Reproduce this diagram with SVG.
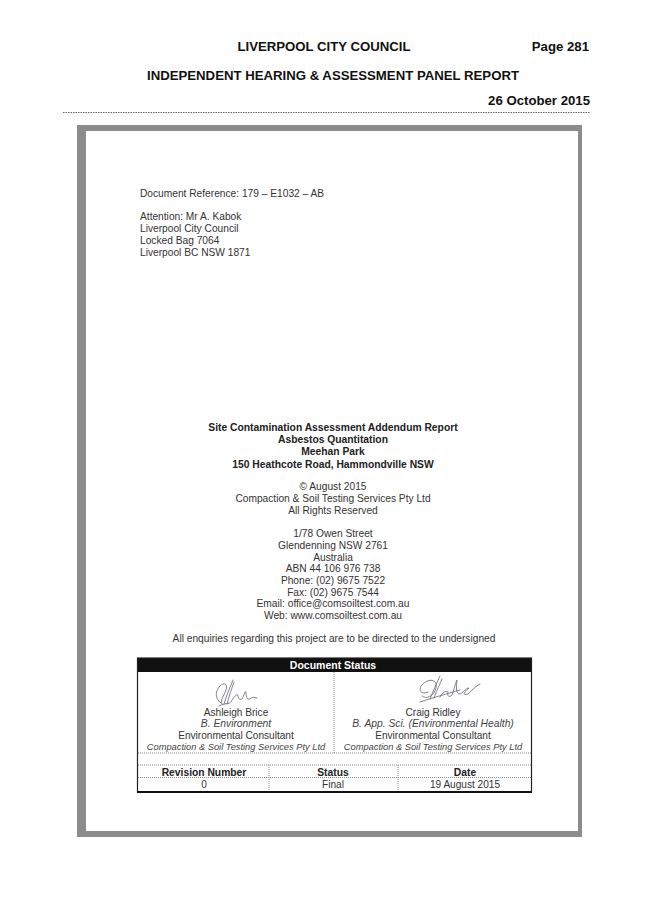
<svg xmlns="http://www.w3.org/2000/svg" width="653" height="923" viewBox="0 0 653 923">
<style>
.hd{font-family:"Liberation Sans",Arial,sans-serif;font-weight:bold;font-size:13.2px;fill:#111}
.t{font-family:"Liberation Sans",Arial,sans-serif;font-size:10.2px;fill:#333}
.tc{font-family:"Liberation Sans",Arial,sans-serif;font-size:10.2px;fill:#333;text-anchor:middle}
.tb{font-family:"Liberation Sans",Arial,sans-serif;font-size:10.3px;font-weight:bold;fill:#222;text-anchor:middle}
.s{font-family:"Liberation Sans",Arial,sans-serif;font-size:10.1px;fill:#333;text-anchor:middle}
.si{font-family:"Liberation Sans",Arial,sans-serif;font-size:10.3px;font-style:italic;fill:#444;text-anchor:middle}
.sm{font-family:"Liberation Sans",Arial,sans-serif;font-size:9.3px;font-style:italic;fill:#444;text-anchor:middle}
.dot{stroke:#888;stroke-width:1;stroke-dasharray:1 1;fill:none}
.sig{fill:none;stroke:#667;stroke-width:0.8;stroke-linecap:round}
</style>
<rect width="653" height="923" fill="#fff"/>
<g id="header">
<text class="hd" x="324" y="51" text-anchor="middle">LIVERPOOL CITY COUNCIL</text>
<text class="hd" x="589" y="51" text-anchor="end">Page 281</text>
<text class="hd" x="333" y="80" text-anchor="middle">INDEPENDENT HEARING &amp; ASSESSMENT PANEL REPORT</text>
<text class="hd" x="590" y="105" text-anchor="end">26 October 2015</text>
<line x1="63" y1="112.5" x2="590" y2="112.5" stroke="#666" stroke-width="1" stroke-dasharray="1.5 1"/>
</g>
<g id="frame" fill="#8c8c8c">
<rect x="77" y="125" width="505" height="6"/>
<rect x="77" y="125" width="9" height="712"/>
<rect x="578" y="125" width="4" height="712"/>
<rect x="77" y="831" width="505" height="6"/>
</g>
<g id="address">
<text class="t" x="140" y="197">Document Reference: 179 – E1032 – AB</text>
<text class="t" x="140" y="220">Attention: Mr A. Kabok</text>
<text class="t" x="140" y="232">Liverpool City Council</text>
<text class="t" x="140" y="244">Locked Bag 7064</text>
<text class="t" x="140" y="256">Liverpool BC NSW 1871</text>
</g>
<g id="title">
<text class="tb" x="333" y="431">Site Contamination Assessment Addendum Report</text>
<text class="tb" x="333" y="443">Asbestos Quantitation</text>
<text class="tb" x="333" y="455">Meehan Park</text>
<text class="tb" x="333" y="468">150 Heathcote Road, Hammondville NSW</text>
</g>
<g id="company">
<text class="tc" x="333" y="490">© August 2015</text>
<text class="tc" x="333" y="502">Compaction &amp; Soil Testing Services Pty Ltd</text>
<text class="tc" x="333" y="514">All Rights Reserved</text>
<text class="tc" x="333" y="537">1/78 Owen Street</text>
<text class="tc" x="333" y="549">Glendenning NSW 2761</text>
<text class="tc" x="333" y="561">Australia</text>
<text class="tc" x="333" y="572">ABN 44 106 976 738</text>
<text class="tc" x="333" y="584">Phone: (02) 9675 7522</text>
<text class="tc" x="333" y="596">Fax: (02) 9675 7544</text>
<text class="tc" x="333" y="607">Email: office@comsoiltest.com.au</text>
<text class="tc" x="333" y="619">Web: www.comsoiltest.com.au</text>
<text class="tc" x="334" y="642">All enquiries regarding this project are to be directed to the undersigned</text>
</g>
<g id="status-table">
<rect x="137" y="658" width="395" height="14" fill="#111"/>
<text x="333" y="669" text-anchor="middle" font-family="Liberation Sans, Arial, sans-serif" font-weight="bold" font-size="10.5" fill="#fff">Document Status</text>
<line class="dot" x1="334" y1="672" x2="334" y2="753"/>
<line class="dot" x1="138" y1="753" x2="531" y2="753"/>
<line class="dot" x1="138" y1="765" x2="531" y2="765"/>
<line class="dot" x1="138" y1="777.5" x2="531" y2="777.5"/>
<line class="dot" x1="269" y1="765" x2="269" y2="792"/>
<line class="dot" x1="398" y1="765" x2="398" y2="792"/>
<rect x="137.5" y="658" width="394" height="134" fill="none" stroke="#222" stroke-width="1.2"/>
<line x1="137" y1="792" x2="532" y2="792" stroke="#111" stroke-width="2"/>
<path class="sig" d="M221 703 C216 700 214 692 220 686 C224 682 228 684 226 690 C224 696 220 700 222 704 M224 704 C226 696 230 688 233 680 M227 704 C229 696 232 688 234 682 M231 702 C233 698 236 694 238 695 C238 698 239 700 242 699 C244 696 245 690 246 692 C246 697 247 700 250 699 C252 697 254 697 257 698 M219 706 C222 704 226 704 230 703"/>
<path class="sig" d="M428 692 C420 696 417 688 424 683 C430 678 438 680 436 688 C434 696 426 700 422 696 M430 699 C433 692 437 682 440 676 M434 698 C437 690 440 684 442 679 M440 697 C442 693 446 690 448 692 C447 696 449 698 452 695 C454 690 455 684 457 680 C456 688 456 694 460 694 C464 692 466 688 469 688 C464 692 462 696 468 694 C472 690 476 686 480 684 M420 702 C432 698 446 694 460 690"/>
<text class="s" x="236" y="716">Ashleigh Brice</text>
<text class="si" x="236" y="727">B. Environment</text>
<text class="s" x="236" y="739">Environmental Consultant</text>
<text class="sm" x="236" y="750">Compaction &amp; Soil Testing Services Pty Ltd</text>
<text class="s" x="433" y="716">Craig Ridley</text>
<text class="si" x="433" y="727">B. App. Sci. (Environmental Health)</text>
<text class="s" x="433" y="739">Environmental Consultant</text>
<text class="sm" x="433" y="750">Compaction &amp; Soil Testing Services Pty Ltd</text>
<text class="tb" x="204" y="776">Revision Number</text>
<text class="tb" x="333" y="776">Status</text>
<text class="tb" x="465" y="776">Date</text>
<text class="s" x="204" y="788">0</text>
<text class="s" x="333" y="788">Final</text>
<text class="s" x="465" y="788">19 August 2015</text>
</g>
</svg>
